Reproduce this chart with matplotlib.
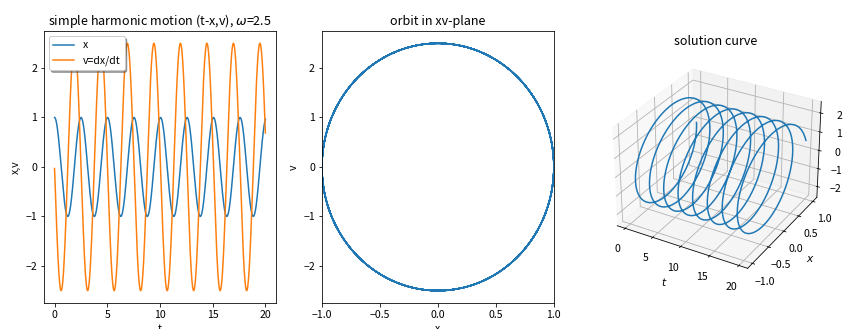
import numpy as np
import matplotlib
matplotlib.use('Agg')
import matplotlib.pyplot as plt

plt.rcParams['font.family'] = ['Noto Sans CJK JP', 'DejaVu Sans']
plt.rcParams['font.size'] = 10.5
plt.rcParams['axes.unicode_minus'] = True

# simple harmonic oscillator x'' = -omega^2 x, x(0)=1, v(0)=0
omega = 2.5
x0 = 1.0
v0 = 0.0
t_end = 20.0
n_steps = 2000

t = np.linspace(0, t_end, n_steps)
x = x0*np.cos(omega*t) + v0/omega*np.sin(omega*t)
v = np.gradient(x, t)

fig = plt.figure(figsize=(854/72, 329/72), dpi=72)
plt.subplots_adjust(left=0.0515, right=0.974, bottom=0.079, top=0.906, wspace=0.198)

ax1 = fig.add_subplot(131)
ax1.plot(t, x, label='x')
ax1.plot(t, v, label='v=dx/dt')
ax1.set_title(r'simple harmonic motion (t-x,v), $\omega$=%.1f' % omega)
ax1.set_xlabel('t')
ax1.set_ylabel('x,v')
ax1.legend(loc='upper left', shadow=True)

ax2 = fig.add_subplot(132)
ax2.plot(x, v)
ax2.set_xlim(-1, 1)
ax2.set_title('orbit in xv-plane')
ax2.set_xlabel('x')
ax2.set_ylabel('v')

ax3 = fig.add_subplot(133, projection='3d')
ax3.plot(t, x, v)
ax3.set_title('solution curve')
ax3.set_xlabel('$t$')
ax3.set_ylabel('$x$')

plt.savefig('out.png', dpi=72)
